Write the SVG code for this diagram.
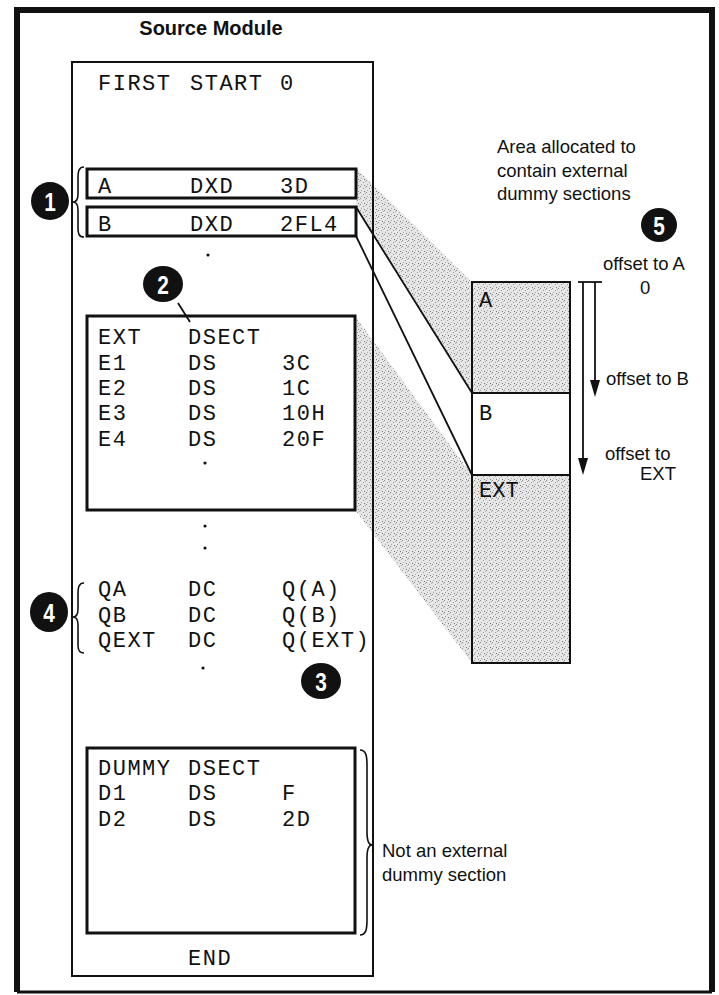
<svg xmlns="http://www.w3.org/2000/svg" width="719" height="995" viewBox="0 0 719 995">
<style>
.mono{font-family:"Liberation Mono","DejaVu Sans Mono",monospace;font-size:22px;letter-spacing:1.5px;fill:#111}
.sans{font-family:"Liberation Sans",Arial,sans-serif;font-size:18.5px;fill:#111}
.title{font-family:"Liberation Sans",Arial,sans-serif;font-size:20px;font-weight:bold;fill:#111}
.num{font-family:"Liberation Sans",Arial,sans-serif;font-size:26px;font-weight:bold;fill:#fff;text-anchor:middle}
.box{fill:none;stroke:#111;stroke-width:3}
.thin{fill:none;stroke:#111;stroke-width:2}
.line{fill:none;stroke:#111;stroke-width:1.8}
.brace{fill:none;stroke:#111;stroke-width:1.6}
.dot{fill:#111}
.head{fill:#111}
</style>
<defs>
<pattern id="stip" width="6" height="6" patternUnits="userSpaceOnUse">
<rect width="6" height="6" fill="#e6e6e6"/>
<rect x="0" y="0" width="1" height="1" fill="#8a8a8a"/>
<rect x="3" y="2" width="1" height="1" fill="#9a9a9a"/>
<rect x="1" y="4" width="1" height="1" fill="#a8a8a8"/>
<rect x="4" y="5" width="1" height="1" fill="#7a7a7a"/>
<rect x="5" y="1" width="1" height="1" fill="#b0b0b0"/>
</pattern>
</defs>
<rect width="719" height="995" fill="#fff"/>

<g id="frame">
<path d="M17,992 L17,10 L712,10 L712,992" fill="none" stroke="#111" stroke-width="6"/>
<line x1="17" y1="992" x2="712" y2="992" stroke="#111" stroke-width="3"/>
</g>

<g id="shading">
<polygon points="356,168 472,282 472,393 356,207" fill="url(#stip)"/>
<polygon points="355,316 472,475 472,663 355,510" fill="url(#stip)"/>
</g>

<g id="title"><text class="title" x="211" y="35" text-anchor="middle">Source Module</text></g>

<g id="source-module">
<rect x="72" y="62" width="301" height="914" class="thin"/>
<text class="mono" x="98" y="90">FIRST</text><text class="mono" x="190" y="90">START</text><text class="mono" x="280" y="90">0</text>
</g>

<g id="box-A">
<rect x="87" y="169" width="269" height="29" class="box"/>
<text class="mono" x="98" y="193">A</text><text class="mono" x="190" y="193">DXD</text><text class="mono" x="280" y="193">3D</text>
</g>
<g id="box-B">
<rect x="87" y="207" width="269" height="29" class="box"/>
<text class="mono" x="98" y="231">B</text><text class="mono" x="190" y="231">DXD</text><text class="mono" x="280" y="231">2FL4</text>
</g>
<circle class="dot" cx="208" cy="255" r="1.6"/>

<g id="ext-dsect">
<rect x="87" y="316" width="268" height="194" class="box"/>
<text class="mono" x="98" y="344">EXT</text><text class="mono" x="188" y="344">DSECT</text>
<text class="mono" x="98" y="370">E1</text><text class="mono" x="188" y="370">DS</text><text class="mono" x="282" y="370">3C</text>
<text class="mono" x="98" y="395">E2</text><text class="mono" x="188" y="395">DS</text><text class="mono" x="282" y="395">1C</text>
<text class="mono" x="98" y="420">E3</text><text class="mono" x="188" y="420">DS</text><text class="mono" x="282" y="420">10H</text>
<text class="mono" x="98" y="446">E4</text><text class="mono" x="188" y="446">DS</text><text class="mono" x="282" y="446">20F</text>
<circle class="dot" cx="205" cy="463" r="1.6"/>
</g>
<circle class="dot" cx="205" cy="526" r="1.6"/>
<circle class="dot" cx="205" cy="548" r="1.6"/>

<g id="q-constants">
<text class="mono" x="98" y="596">QA</text><text class="mono" x="188" y="596">DC</text><text class="mono" x="282" y="596">Q(A)</text>
<text class="mono" x="98" y="622">QB</text><text class="mono" x="188" y="622">DC</text><text class="mono" x="282" y="622">Q(B)</text>
<text class="mono" x="98" y="647">QEXT</text><text class="mono" x="188" y="647">DC</text><text class="mono" x="282" y="647">Q(EXT)</text>
<circle class="dot" cx="203" cy="668" r="1.6"/>
</g>

<g id="dummy-dsect">
<rect x="87" y="748" width="268" height="185" class="box"/>
<text class="mono" x="98" y="775">DUMMY</text><text class="mono" x="188" y="775">DSECT</text>
<text class="mono" x="98" y="800">D1</text><text class="mono" x="188" y="800">DS</text><text class="mono" x="282" y="800">F</text>
<text class="mono" x="98" y="826">D2</text><text class="mono" x="188" y="826">DS</text><text class="mono" x="282" y="826">2D</text>
</g>
<g id="end"><text class="mono" x="188" y="965">END</text></g>

<g id="braces">
<path class="brace" d="M84,167 C79,167 78,171 78,178 L78,194 C78,199 77,202 73,202 C77,202 78,205 78,210 L78,228 C78,234 79,237 84,237"/>
<path class="brace" d="M84,583 C79,583 78,587 78,594 L78,609 C78,614 77,617 73,617 C77,617 78,620 78,625 L78,645 C78,650 79,653 84,653"/>
<path class="brace" d="M360,750 C366,750 367,756 367,765 L367,832 C367,840 368,845 372,845 C368,845 367,850 367,858 L367,920 C367,929 366,935 360,935"/>
</g>
<g id="note-dummy">
<text class="sans" x="382" y="857">Not an external</text>
<text class="sans" x="382" y="881">dummy section</text>
</g>

<g id="area-label">
<text class="sans" x="497" y="153">Area allocated to</text>
<text class="sans" x="497" y="177">contain external</text>
<text class="sans" x="497" y="200">dummy sections</text>
</g>

<g id="memory">
<rect x="472" y="282" width="98" height="111" fill="url(#stip)"/>
<rect x="472" y="393" width="98" height="82" fill="#fff"/>
<rect x="472" y="475" width="98" height="188" fill="url(#stip)"/>
<rect x="472" y="282" width="98" height="381" class="thin"/>
<line x1="472" y1="393" x2="570" y2="393" stroke="#111" stroke-width="2"/>
<line x1="472" y1="475" x2="570" y2="475" stroke="#111" stroke-width="2"/>
<text class="mono" x="479" y="307" style="letter-spacing:0">A</text>
<text class="mono" x="479" y="420" style="letter-spacing:0">B</text>
<text class="mono" x="479" y="497" style="letter-spacing:0">EXT</text>
</g>

<g id="offsets">
<text class="sans" x="603" y="270">offset to A</text>
<text class="sans" x="640" y="294">0</text>
<text class="sans" x="606" y="385">offset to B</text>
<text class="sans" x="605" y="460">offset to</text>
<text class="sans" x="640" y="480">EXT</text>
</g>

<g id="connectors">
<line x1="356" y1="207" x2="472" y2="393" class="line"/>
<line x1="356" y1="236" x2="472" y2="475" class="line"/>
<line x1="178" y1="303" x2="190" y2="322" class="line"/>
<line x1="578" y1="282" x2="602" y2="282" class="line"/>
<line x1="583" y1="282" x2="583" y2="462" class="line"/>
<polygon class="head" points="578,458 588,458 583,475"/>
<line x1="595" y1="282" x2="595" y2="384" class="line"/>
<polygon class="head" points="590,380 600,380 595,397"/>
</g>

<g id="callout-1"><ellipse cx="50" cy="201" rx="19" ry="19" fill="#111"/><text class="num" transform="translate(50,211) scale(0.8,1)">1</text></g>
<g id="callout-2"><ellipse cx="163" cy="284" rx="20" ry="18" fill="#111"/><text class="num" transform="translate(163,294) scale(0.8,1)">2</text></g>
<g id="callout-3"><ellipse cx="321" cy="681" rx="20" ry="18" fill="#111"/><text class="num" transform="translate(321,691) scale(0.8,1)">3</text></g>
<g id="callout-4"><ellipse cx="49" cy="612" rx="19" ry="20" fill="#111"/><text class="num" transform="translate(49,622) scale(0.8,1)">4</text></g>
<g id="callout-5"><ellipse cx="659" cy="225" rx="18" ry="17" fill="#111"/><text class="num" transform="translate(659,235) scale(0.8,1)">5</text></g>
</svg>
